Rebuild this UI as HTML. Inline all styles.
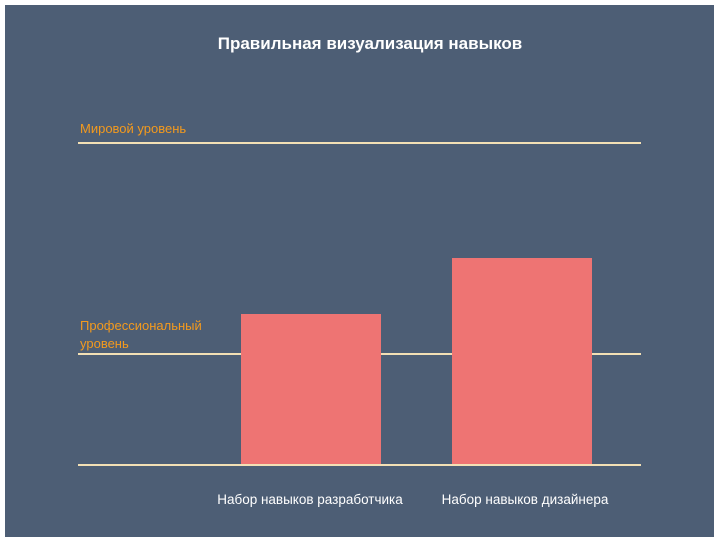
<!DOCTYPE html>
<html><head><meta charset="utf-8"><style>
body{margin:0;width:720px;height:542px;background:#fff;position:relative;overflow:hidden;font-family:"Liberation Sans","DejaVu Sans",sans-serif}
#p{position:absolute;left:5px;top:5px;width:709px;height:532px;background:#4d5e75}
.t{position:absolute;white-space:nowrap}
.l{position:absolute;left:78px;width:563px;height:2px;background:#f3e0b5}
.b{position:absolute;background:#ee7473}
</style></head><body>
<div id="p"></div>
<div class="t" style="left:0;width:740px;text-align:center;top:34px;color:#fff;font-weight:bold;font-size:17px">Правильная визуализация навыков</div>
<div class="t" style="left:80px;top:121px;color:#f39a1e;font-size:13px">Мировой уровень</div>
<div class="t" style="left:80px;top:317px;color:#f39a1e;font-size:13px;line-height:18px">Профессиональный<br>уровень</div>
<div class="l" style="top:142px"></div>
<div class="l" style="top:353px"></div>
<div class="b" style="left:241px;top:314px;width:140px;height:151px"></div>
<div class="b" style="left:452px;top:258px;width:140px;height:207px"></div>
<div class="l" style="top:464px"></div>
<div class="t" style="left:210px;width:200px;text-align:center;top:492px;color:#fff;font-size:13.5px">Набор навыков разработчика</div>
<div class="t" style="left:425px;width:200px;text-align:center;top:492px;color:#fff;font-size:13.5px">Набор навыков дизайнера</div>
</body></html>
